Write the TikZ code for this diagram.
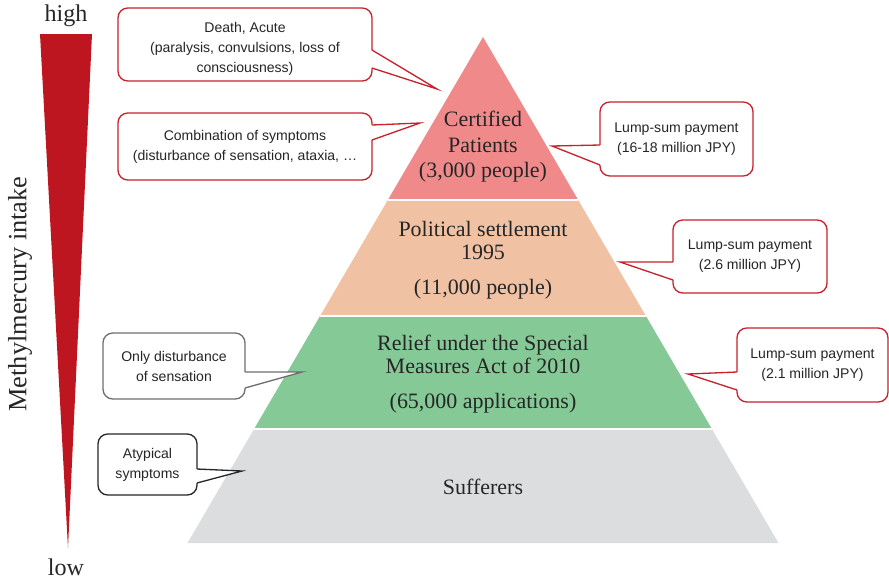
\documentclass[tikz,border=0pt]{standalone}
\usepackage{fontspec}
\setmainfont{Liberation Serif}
\newfontfamily\callfont{Liberation Sans}
\usepackage{xcolor}
\usetikzlibrary{calc}

\definecolor{wedgered}{RGB}{190,22,32}
\definecolor{callred}{RGB}{200,32,44}
\definecolor{callgray}{RGB}{110,110,110}
\definecolor{certcol}{RGB}{240,138,138}
\definecolor{polcol}{RGB}{240,194,163}
\definecolor{reliefcol}{RGB}{133,201,151}
\definecolor{suffcol}{RGB}{220,221,223}

\begin{document}
\begin{tikzpicture}[x=0.02cm,y=-0.02cm,
    layer/.style={text=black!85, align=center, font=\fontsize{12.5}{14.5}\selectfont},
    sidetext/.style={text=black!85, font=\fontsize{13.7}{16}\selectfont},
    callbox/.style={draw, line width=0.75pt, rounded corners=5.5pt, fill=white, align=center,
        inner sep=0pt, outer sep=0pt, text=black!85, font=\callfont\fontsize{8}{11.4}\selectfont},
    tail/.style={line width=0.75pt}]
    \useasboundingbox (0,0) rectangle (889,582);

    % Intake wedge
    \fill[wedgered] (40,34) -- (92,34) -- (68,548) -- cycle;
    \node[sidetext] (high) at (66,16) {high};
    \node[sidetext] (low) at (66,567) {low};
    \node[sidetext, rotate=90, font=\fontsize{15}{18}\selectfont] (intake) at (20,294) {Methylmercury intake};

    % Pyramid
    \coordinate (apex) at (483,37);
    \coordinate (bl) at (187.5,543);
    \coordinate (br) at (778.5,543);
    \fill[certcol] (apex) -- ($(apex)!0.322!(br)$) -- ($(apex)!0.322!(bl)$) -- cycle;
    \fill[polcol] ($(apex)!0.322!(bl)$) -- ($(apex)!0.322!(br)$) -- ($(apex)!0.551!(br)$) -- ($(apex)!0.551!(bl)$) -- cycle;
    \fill[reliefcol] ($(apex)!0.551!(bl)$) -- ($(apex)!0.551!(br)$) -- ($(apex)!0.775!(br)$) -- ($(apex)!0.775!(bl)$) -- cycle;
    \fill[suffcol] ($(apex)!0.775!(bl)$) -- ($(apex)!0.775!(br)$) -- (br) -- (bl) -- cycle;
    \foreach \t in {0.322,0.551,0.775}
        \draw[white, line width=1.2pt] ($(apex)!\t!(bl)$) -- ($(apex)!\t!(br)$);

    % Labels
    \node[layer] (certified) at (483,147) {Certified\\Patients\\(3,000 people)};
    \node[layer, font=\fontsize{12.5}{13.1}\selectfont] (political) at (483,260) {Political settlement\\1995\\[6.8pt](11,000 people)};
    \node[layer, font=\fontsize{12.5}{13.1}\selectfont] (relief) at (483,374.5) {Relief under the Special\\Measures Act of 2010\\[6.8pt](65,000 applications)};
    \node[layer] (sufferers) at (483,487) {Sufferers};

    % Symptom callouts (left)
    \node[callbox, draw=callred, minimum width=5.08cm, minimum height=1.46cm] (death) at (245,44.5) {\rule{0pt}{11pt}Death, Acute\\(paralysis, convulsions, loss of\\consciousness)};
    \node[callbox, draw=callred, minimum width=5.08cm, minimum height=1.34cm] (combo) at (245,146.5) {Combination of symptoms\\(disturbance of sensation, ataxia, …};
    \node[callbox, draw=callgray, minimum width=2.84cm, minimum height=1.32cm] (onlydist) at (174,366) {Only disturbance\\of sensation};
    \node[callbox, draw=black!85, minimum width=1.98cm, minimum height=1.22cm] (atypical) at (147.5,464.5) {Atypical\\symptoms};

    % Payment callouts (right)
    \node[callbox, draw=callred, minimum width=3.06cm, minimum height=1.48cm] (payone) at (676.5,139) {Lump-sum payment\\(16-18 million JPY)};
    \node[callbox, draw=callred, minimum width=3.08cm, minimum height=1.46cm] (paytwo) at (750,256.5) {Lump-sum payment\\(2.6 million JPY)};
    \node[callbox, draw=callred, minimum width=3.02cm, minimum height=1.48cm] (paythree) at (812.5,365) {Lump-sum payment\\(2.1 million JPY)};

    % Tails
    \coordinate (deathtip) at (437,89);
    \coordinate (combotip) at (420,123);
    \coordinate (onlydisttip) at (302,372);
    \coordinate (atypicaltip) at (242,471);
    \coordinate (payonetip) at (552,146);
    \coordinate (paytwotip) at (620,262);
    \coordinate (paythreetip) at (688,374);

    \fill[white] ($(death.north east)+(-1,42)$) -- (deathtip) -- ($(death.north east)+(-1,60)$) -- cycle;
    \draw[tail, callred] ($(death.north east)+(0,42)$) -- (deathtip) -- ($(death.north east)+(0,60)$);
    \fill[white] ($(combo.north east)+(-1,12)$) -- (combotip) -- ($(combo.north east)+(-1,27)$) -- cycle;
    \draw[tail, callred] ($(combo.north east)+(0,12)$) -- (combotip) -- ($(combo.north east)+(0,27)$);
    \fill[white] ($(onlydist.north east)+(-1,39)$) -- (onlydisttip) -- ($(onlydist.north east)+(-1,55)$) -- cycle;
    \draw[tail, callgray] ($(onlydist.north east)+(0,39)$) -- (onlydisttip) -- ($(onlydist.north east)+(0,55)$);
    \fill[white] ($(atypical.north east)+(-1,35)$) -- (atypicaltip) -- ($(atypical.north east)+(-1,49)$) -- cycle;
    \draw[tail, black!85] ($(atypical.north east)+(0,35)$) -- (atypicaltip) -- ($(atypical.north east)+(0,49)$);

    \fill[white] ($(payone.north west)+(1,43)$) -- (payonetip) -- ($(payone.north west)+(1,63)$) -- cycle;
    \draw[tail, callred] ($(payone.north west)+(0,43)$) -- (payonetip) -- ($(payone.north west)+(0,63)$);
    \fill[white] ($(paytwo.north west)+(1,42)$) -- (paytwotip) -- ($(paytwo.north west)+(1,60)$) -- cycle;
    \draw[tail, callred] ($(paytwo.north west)+(0,42)$) -- (paytwotip) -- ($(paytwo.north west)+(0,60)$);
    \fill[white] ($(paythree.north west)+(1,44)$) -- (paythreetip) -- ($(paythree.north west)+(1,62)$) -- cycle;
    \draw[tail, callred] ($(paythree.north west)+(0,44)$) -- (paythreetip) -- ($(paythree.north west)+(0,62)$);
\end{tikzpicture}
\end{document}
